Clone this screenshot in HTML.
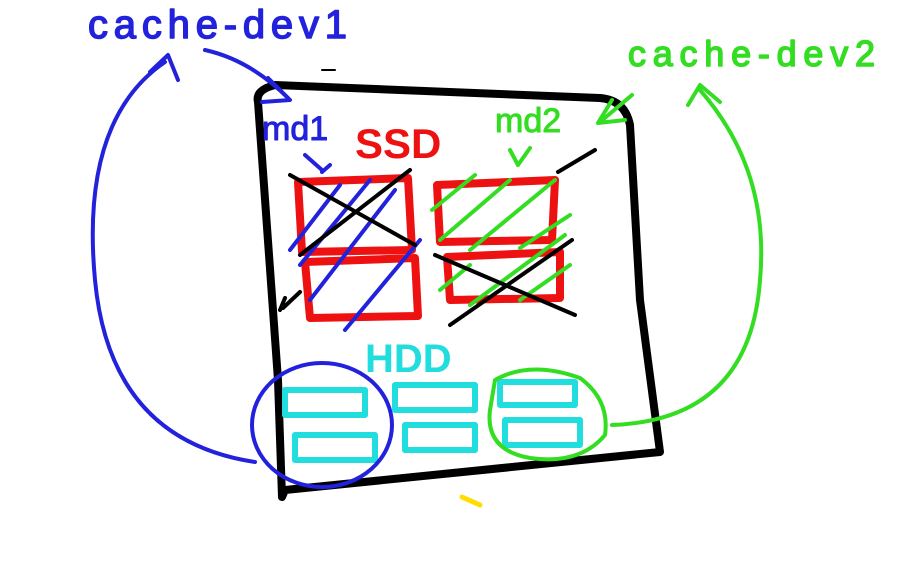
<!DOCTYPE html>
<html><head><meta charset="utf-8"><style>
html,body{margin:0;padding:0;background:#fff;}
svg{display:block}
text{font-family:"Liberation Sans",sans-serif;}
</style></head><body>
<svg width="906" height="576" viewBox="0 0 906 576" xmlns="http://www.w3.org/2000/svg" fill="none" stroke-linecap="round" stroke-linejoin="round">
<path d="M258,102 Q255,90 275,85 L600,98 Q625,100 630,125 L640,300 L660,452 L285,490 L282,497 L278,380 Z" stroke="#000" stroke-width="8"/>
<path d="M322,70 L335,70" stroke="#000" stroke-width="2"/>
<text x="88" y="38" fill="#2222dd" font-size="40" stroke="#2222dd" stroke-width="1.5" letter-spacing="3" textLength="262">cache-dev1</text>
<text x="628" y="66" fill="#33dd22" font-size="36" stroke="#33dd22" stroke-width="1.5" letter-spacing="3" textLength="250">cache-dev2</text>
<text x="262" y="140" fill="#2222dd" font-size="34" stroke="#2222dd" stroke-width="1">md1</text>
<text x="495" y="132" fill="#33dd22" font-size="34" stroke="#33dd22" stroke-width="1">md2</text>
<text x="355" y="158" fill="#ee1111" font-size="42" font-weight="bold">SSD</text>
<text x="365" y="372" fill="#22dddd" font-size="40" font-weight="bold">HDD</text>
<g stroke="#ee1111" stroke-width="8">
<path d="M298,182 L408,178 L412,250 L302,252 Z"/>
<path d="M305,262 L415,258 L418,316 L310,318 Z"/>
<path d="M437,185 L555,180 L552,240 L440,242 Z"/>
<path d="M447,257 L560,252 L560,298 L450,300 Z"/>
</g>
<g stroke="#22dddd" stroke-width="6">
<rect x="285" y="390" width="80" height="25"/>
<rect x="295" y="435" width="80" height="25"/>
<rect x="395" y="385" width="80" height="25"/>
<rect x="405" y="425" width="70" height="25"/>
<rect x="500" y="382" width="75" height="23"/>
<rect x="505" y="420" width="75" height="25"/>
</g>
<g stroke="#2222dd" stroke-width="4">
<path d="M290,250 L340,185"/><path d="M300,265 L370,180"/><path d="M310,300 L395,190"/><path d="M345,330 L420,240"/><path d="M330,165 L322,172"/>
<path d="M305,155 L322,170"/>
</g>
<g stroke="#33dd22" stroke-width="4">
<path d="M432,210 L475,175"/><path d="M440,240 L510,180"/><path d="M470,250 L555,180"/><path d="M520,248 L570,215"/><path d="M440,290 L470,265"/><path d="M470,305 L565,235"/><path d="M520,300 L570,265"/>
<path d="M510,150 L518,165 L530,148"/>
</g>
<g stroke="#000" stroke-width="4">
<path d="M290,175 L415,245"/><path d="M300,255 L410,170"/>
<path d="M435,255 L575,315"/><path d="M450,325 L572,240"/>
<path d="M558,172 L595,150"/>
<path d="M280,310 L285,298 M283,308 L300,292"/>
</g>
<ellipse cx="322" cy="425" rx="70" ry="62" stroke="#2222dd" stroke-width="4"/>
<path d="M495,380 Q530,360 580,378 Q610,400 605,435 Q580,465 530,458 Q485,450 490,410 Z" stroke="#33dd22" stroke-width="4"/>
<g stroke="#2222dd" stroke-width="4">
<path d="M165,62 Q80,120 95,280 Q110,440 255,462"/>
<path d="M150,72 L168,55 L178,80"/>
<path d="M205,50 Q250,60 288,98"/>
<path d="M268,78 L290,100 L262,102"/>
</g>
<g stroke="#33dd22" stroke-width="4">
<path d="M700,90 Q770,170 760,280 Q750,420 612,425"/>
<path d="M688,105 L700,85 L720,102"/>
<path d="M632,95 L600,122"/>
<path d="M612,100 L598,123 L625,120"/>
</g>
<path d="M462,497 L480,505" stroke="#ffdd00" stroke-width="5"/>
</svg>
</body></html>
